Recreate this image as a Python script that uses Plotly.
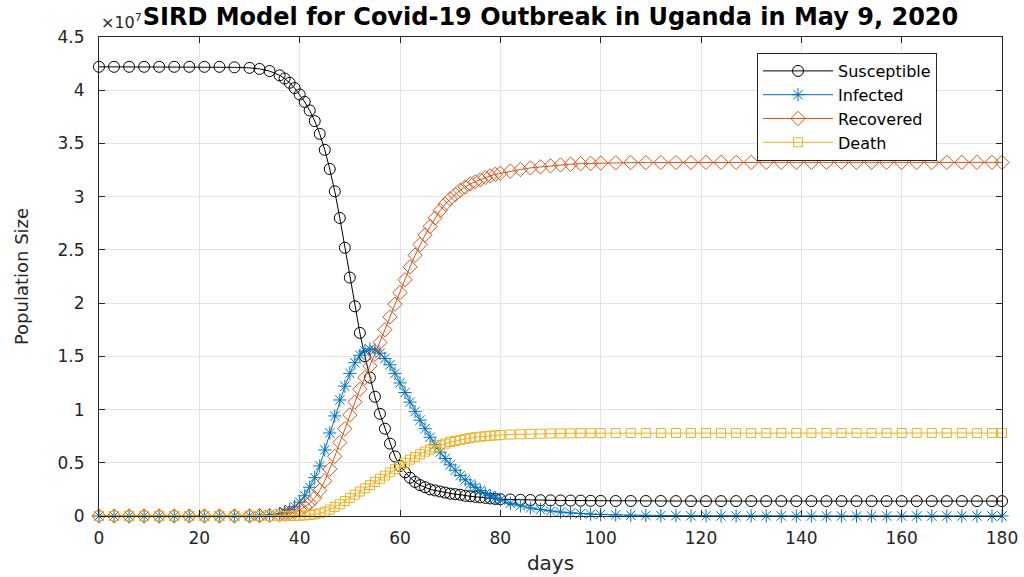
import plotly.graph_objects as go

# Data (population in units of 10^7)
days = [0, 3, 6, 9, 12, 15, 18, 21, 24, 27, 30, 32, 34, 36,
        37, 38, 39, 40, 41, 42, 43, 44, 45, 46,
        47, 48, 49, 50, 51, 52, 53, 54, 55, 56,
        57, 58, 59, 60, 61, 62, 63, 64, 65, 66,
        67, 68, 69, 70, 71, 72, 73, 74, 75, 76,
        77, 78, 79, 80,
        82, 84, 86, 88, 90, 92, 94, 96, 98, 100,
        103, 106, 109, 112, 115, 118, 121, 124, 127, 130, 133, 136, 139, 142,
        145, 148, 151, 154, 157, 160, 163, 166, 169, 172, 175, 178, 180]

susceptible = [4.22, 4.22, 4.22, 4.22, 4.22, 4.22, 4.22, 4.22, 4.22, 4.215, 4.21, 4.20, 4.18, 4.14,
               4.11, 4.07, 4.02, 3.96, 3.89, 3.81, 3.71, 3.59, 3.44, 3.26,
               3.05, 2.80, 2.52, 2.24, 1.97, 1.72, 1.50, 1.30, 1.12, 0.96,
               0.82, 0.68, 0.56, 0.47, 0.41, 0.36, 0.32, 0.29, 0.27, 0.25,
               0.24, 0.23, 0.22, 0.21, 0.205, 0.20, 0.19, 0.185, 0.18, 0.175,
               0.17, 0.165, 0.16, 0.158,
               0.155, 0.152, 0.15, 0.148, 0.147, 0.146, 0.145, 0.144, 0.143, 0.142,
               0.141, 0.141, 0.141, 0.141, 0.140, 0.140, 0.140, 0.140, 0.140, 0.140, 0.140, 0.140, 0.140, 0.140,
               0.140, 0.140, 0.140, 0.140, 0.140, 0.140, 0.140, 0.140, 0.140, 0.140, 0.140, 0.140, 0.140]

infected = [0.0, 0.0, 0.0, 0.0, 0.0, 0.0, 0.0, 0.001, 0.001, 0.002, 0.003, 0.006, 0.012, 0.025,
            0.04, 0.06, 0.09, 0.13, 0.19, 0.27, 0.36, 0.47, 0.62, 0.78,
            0.94, 1.09, 1.22, 1.34, 1.44, 1.51, 1.55, 1.57, 1.56, 1.53,
            1.48, 1.42, 1.34, 1.25, 1.16, 1.07, 0.98, 0.90, 0.82, 0.74,
            0.67, 0.60, 0.54, 0.48, 0.43, 0.38, 0.34, 0.30, 0.27, 0.24,
            0.21, 0.19, 0.17, 0.15,
            0.12, 0.095, 0.075, 0.06, 0.047, 0.037, 0.029, 0.023, 0.018, 0.014,
            0.010, 0.007, 0.005, 0.004, 0.003, 0.002, 0.002, 0.001, 0.001, 0.001, 0.001, 0.0, 0.0, 0.0,
            0.0, 0.0, 0.0, 0.0, 0.0, 0.0, 0.0, 0.0, 0.0, 0.0, 0.0, 0.0, 0.0]

recovered = [0.0, 0.0, 0.0, 0.0, 0.0, 0.0, 0.0, 0.0, 0.0, 0.0, 0.001, 0.003, 0.006, 0.012,
             0.018, 0.027, 0.04, 0.058, 0.085, 0.12, 0.17, 0.24, 0.33, 0.44,
             0.56, 0.69, 0.82, 0.95, 1.07, 1.19, 1.30, 1.41, 1.52, 1.63,
             1.75, 1.87, 1.99, 2.10, 2.22, 2.34, 2.45, 2.55, 2.64, 2.72,
             2.80, 2.87, 2.93, 2.98, 3.02, 3.06, 3.09, 3.12, 3.14, 3.16,
             3.18, 3.195, 3.21, 3.22,
             3.24, 3.255, 3.27, 3.28, 3.29, 3.298, 3.305, 3.31, 3.313, 3.316,
             3.318, 3.32, 3.32, 3.321, 3.321, 3.321, 3.322, 3.322, 3.322, 3.322, 3.322, 3.322, 3.322, 3.322,
             3.322, 3.322, 3.322, 3.322, 3.322, 3.322, 3.322, 3.322, 3.322, 3.322, 3.322, 3.322, 3.322]

death = [0.0, 0.0, 0.0, 0.0, 0.0, 0.0, 0.0, 0.0, 0.0, 0.0, 0.0, 0.0, 0.0, 0.0,
         0.001, 0.001, 0.002, 0.003, 0.005, 0.009, 0.015, 0.025, 0.04, 0.06,
         0.085, 0.11, 0.14, 0.17, 0.20, 0.23, 0.26, 0.29, 0.32, 0.35,
         0.38, 0.41, 0.44, 0.47, 0.50, 0.53, 0.555, 0.58, 0.605, 0.625,
         0.645, 0.665, 0.68, 0.695, 0.705, 0.715, 0.725, 0.733, 0.74, 0.745,
         0.75, 0.754, 0.757, 0.76,
         0.765, 0.768, 0.771, 0.773, 0.775, 0.776, 0.777, 0.778, 0.778, 0.779,
         0.78, 0.78, 0.78, 0.78, 0.78, 0.78, 0.78, 0.78, 0.78, 0.78, 0.78, 0.78, 0.78, 0.78,
         0.78, 0.78, 0.78, 0.78, 0.78, 0.78, 0.78, 0.78, 0.78, 0.78, 0.78, 0.78, 0.78]

series_names = ["Susceptible", "Infected", "Recovered", "Death"]
series_values = [susceptible, infected, recovered, death]
colors = ["#000000", "#0072BD", "#D95319", "#EDB120"]
symbols = ["circle-open", "asterisk-open", "diamond-open", "square-open"]
sizes = [11, 11, 11, 9]

x_ticks = [0, 20, 40, 60, 80, 100, 120, 140, 160, 180]
y_ticks = [0, 0.5, 1, 1.5, 2, 2.5, 3, 3.5, 4, 4.5]

FONT = "DejaVu Sans, Liberation Sans, Arial"
FIG_W, FIG_H = 1024, 577

fig = go.Figure()
for name, vals, col, sym, sz in zip(series_names, series_values, colors, symbols, sizes):
    fig.add_trace(go.Scatter(
        x=days, y=vals, name=name, mode="lines+markers",
        line=dict(color=col, width=1),
        marker=dict(symbol=sym, size=sz, color=col, line=dict(color=col, width=1)),
        cliponaxis=False,
    ))

axis_common = dict(
    showline=True, linecolor="#262626", linewidth=1, mirror="ticks",
    ticks="inside", ticklen=6, tickcolor="#262626",
    showgrid=True, gridcolor="#e3e3e3", gridwidth=1,
    zeroline=False, automargin=False,
    tickfont=dict(family=FONT, size=17, color="#262626"),
)

fig.update_layout(
    width=FIG_W, height=FIG_H,
    margin=dict(l=99, r=22, t=37, b=61),
    paper_bgcolor="white", plot_bgcolor="white",
    font=dict(family=FONT, color="#262626"),
    title=dict(text="<b>SIRD Model for Covid-19 Outbreak in Uganda in May 9, 2020</b>",
               x=0.5, xref="paper", xanchor="center",
               y=1 - 17 / FIG_H, yref="container", yanchor="middle",
               font=dict(family=FONT, size=24, color="#000000")),
    xaxis=dict(range=[0, 180], tickvals=x_ticks, ticklabelstandoff=7,
               title=dict(text="days", font=dict(family=FONT, size=20, color="#262626"), standoff=8),
               **axis_common),
    yaxis=dict(range=[0, 4.5], tickvals=y_ticks, ticklabelstandoff=10,
               title=dict(text="Population Size", font=dict(family=FONT, size=18, color="#262626"), standoff=24),
               **axis_common),
    legend=dict(x=0.7287, y=0.9666, xanchor="left", yanchor="top",
                bgcolor="white", bordercolor="#262626", borderwidth=1,
                font=dict(family=FONT, size=16, color="#000000"),
                tracegroupgap=0, itemwidth=70),
    showlegend=True,
)

fig.add_annotation(text="×10<sup>7</sup>", xref="paper", yref="paper",
                   x=0.0, y=1.0, xanchor="left", yanchor="bottom", yshift=3,
                   showarrow=False, font=dict(family=FONT, size=16, color="#262626"))

fig.write_html("out.html",
               config={"displayModeBar": False},
               post_script="document.body.style.margin='0';document.body.style.overflow='hidden';")
